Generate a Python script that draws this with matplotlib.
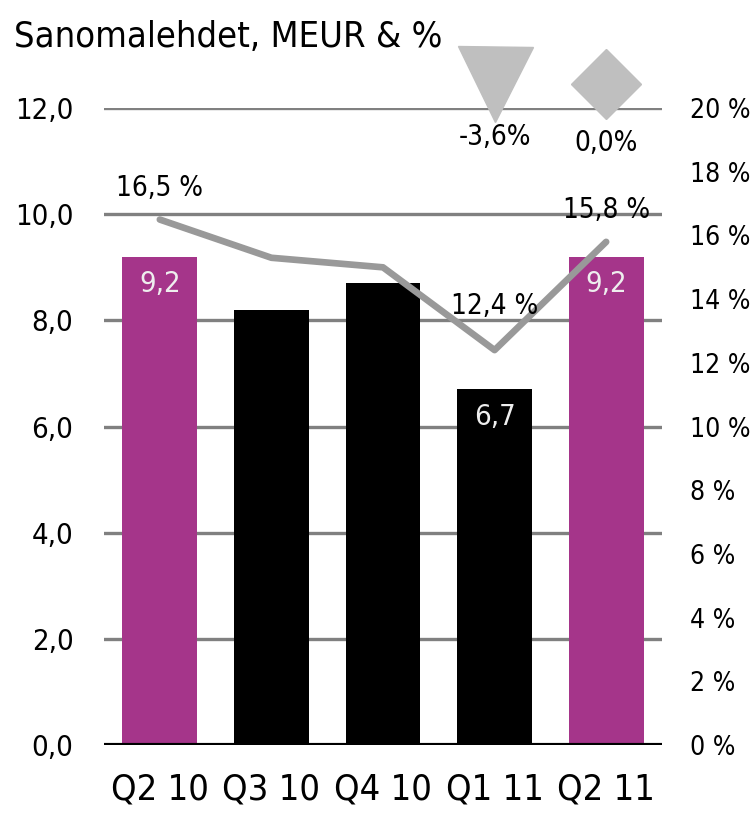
import matplotlib
matplotlib.use("Agg")
import matplotlib.pyplot as plt
from matplotlib import font_manager

# Data
quarters = ["Q2 10", "Q3 10", "Q4 10", "Q1 11", "Q2 11"]
ebit = [9.2, 8.2, 8.7, 6.7, 9.2]
margin = [16.5, 15.3, 15.0, 12.4, 15.8]
bar_colors = ["#A5358A", "black", "black", "black", "#A5358A"]
bar_labels = ["9,2", "", "", "6,7", "9,2"]
margin_labels = {0: "16,5 %", 3: "12,4 %", 4: "15,8 %"}
change_pos = [3, 4]
change_markers = ["v", "D"]
change_labels = ["-3,6%", "0,0%"]

names = {f.name for f in font_manager.fontManager.ttflist}
if "Liberation Sans Narrow" in names:
    plt.rcParams["font.family"] = "Liberation Sans Narrow"
else:
    plt.rcParams["font.family"] = "DejaVu Sans"
    plt.rcParams["font.stretch"] = "condensed"

fig = plt.figure(figsize=(7.56, 8.19), dpi=100)
ax = fig.add_axes([0.1376, 0.0904, 0.738, 0.7776])
ax2 = ax.twinx()

x = list(range(len(quarters)))

# gridlines
for v in [2, 4, 6, 8, 10, 12]:
    ax.axhline(v, color="#808080", lw=2.4, zorder=0)
ax.axhline(0, color="black", lw=3, zorder=3)

ax.bar(x, ebit, width=0.67, color=bar_colors, zorder=2)
for i, (v, t) in enumerate(zip(ebit, bar_labels)):
    if t:
        ax.text(i, v - 0.25, t, ha="center", va="top", color="#eeeeee", fontsize=21)

ax.set_xlim(-0.5, 4.5)
ax.set_ylim(0, 12)
ax.set_yticks([0, 2, 4, 6, 8, 10, 12])
ax.set_yticklabels([f"{v:.1f}".replace(".", ",") for v in [0, 2, 4, 6, 8, 10, 12]], fontsize=21)
ax.set_xticks(x)
ax.set_xticklabels(quarters, fontsize=26)
ax.tick_params(length=0, pad=22)
ax.tick_params(axis="x", pad=20)
for s in ax.spines.values():
    s.set_visible(False)

# margin line on right axis
ax2.plot(x, margin, color="#999999", lw=4.8, solid_capstyle="round", zorder=4)
ax2.set_ylim(0, 20)
ax2.set_yticks(range(0, 21, 2))
ax2.set_yticklabels([f"{v} %" for v in range(0, 21, 2)], fontsize=19)
ax2.tick_params(length=0, pad=20)
for s in ax2.spines.values():
    s.set_visible(False)

offsets = {0: (0, 1.0), 3: (0, 1.4), 4: (0, 1.0)}
for i, t in margin_labels.items():
    dx, dy = offsets[i]
    ax2.text(i + dx, margin[i] + dy, t, ha="center", va="center", fontsize=20, zorder=6)

# change markers above plot
for p, m, t in zip(change_pos, change_markers, change_labels):
    ms = 54 if m == "v" else 36
    ax.plot([p], [12.45], marker=m, ms=ms, color="#bfbfbf", clip_on=False, zorder=5)
    ax.text(p, 11.45 if m == "v" else 11.35, t, ha="center", va="center", fontsize=20)

fig.text(0.018, 0.955, "Sanomalehdet, MEUR & %", fontsize=26, va="center", ha="left")

fig.savefig("out.png", dpi=100)
